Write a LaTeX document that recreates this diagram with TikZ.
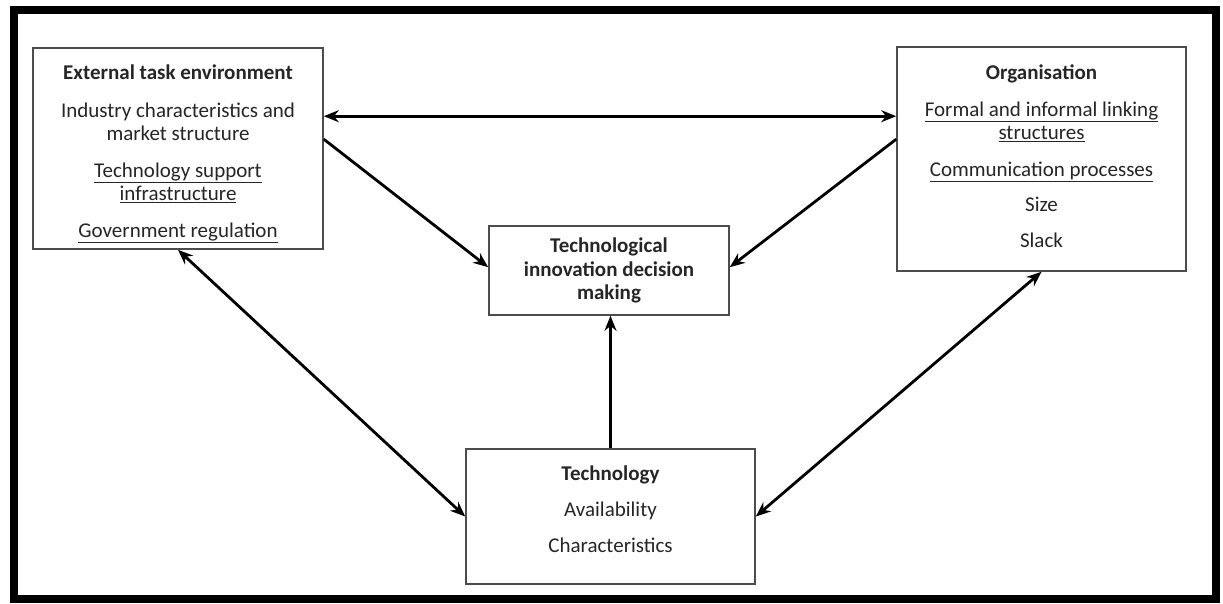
\documentclass[tikz,border=0pt]{standalone}
\usepackage{fontspec}
\setmainfont{Carlito}
\usetikzlibrary{arrows.meta,calc}
\begin{document}
\begin{tikzpicture}[x=1pt,y=-1pt,
  box/.style={draw=black!70,line width=1.6pt,fill=white,minimum width=#1,inner sep=0pt},
  txt/.style={align=center,text=black!85,font=\fontsize{21}{23.5}\selectfont},
  conn/.style={line width=2.8pt,-{Stealth[length=15pt,width=12pt]}},
  dconn/.style={line width=2.8pt,{Stealth[length=15pt,width=12pt]}-{Stealth[length=15pt,width=12pt]}}]
\useasboundingbox (0,0) rectangle (1223,603);
\fill[white] (0,0) rectangle (1223,603);
\draw[line width=8pt] (14,10) rectangle (1216,599);
% boxes
\node[box=290pt,minimum height=201pt] (lbox) at (178,148.5) {};
\node[box=289pt,minimum height=224pt] (rbox) at (1041.5,159) {};
\node[box=240pt,minimum height=89pt] (cbox) at (609,270.5) {};
\node[box=289pt,minimum height=135pt] (bbox) at (610.5,516.5) {};
% texts
\node[txt] (ltext) at (178,154) {\textbf{External task environment}\\[14pt]
  Industry characteristics and\\ market structure\\[13pt]
  \underline{Technology support}\\ \underline{infrastructure}\\[13pt]
  \underline{Government regulation}};
\node[txt] (rtext) at (1041.5,156) {\textbf{Organisation}\\[13pt]
  \underline{Formal and informal linking}\\ \underline{structures}\\[13pt]
  \underline{Communication processes}\\[12pt]
  Size\\[12pt]
  Slack};
\node[txt] (ctext) at (cbox.center) {\textbf{Technological}\\ \textbf{innovation decision}\\ \textbf{making}};
\node[txt] (btext) at (610.5,509) {\textbf{Technology}\\[13pt] Availability\\[12pt] Characteristics};
% connectors
\draw[dconn] ($(lbox.north east)+(0,69)$) -- ($(rbox.north west)+(0,70)$);
\draw[conn] ($(lbox.north east)+(0,92)$) -- ($(cbox.north west)+(0,42)$);
\draw[conn] ($(rbox.north west)+(0,93)$) -- ($(cbox.north east)+(0,42)$);
\draw[conn] (bbox.north) -- (bbox.north |- cbox.south);
\draw[dconn] (lbox.south) -- (bbox.west);
\draw[dconn] (rbox.south) -- (bbox.east);
\end{tikzpicture}
\end{document}
